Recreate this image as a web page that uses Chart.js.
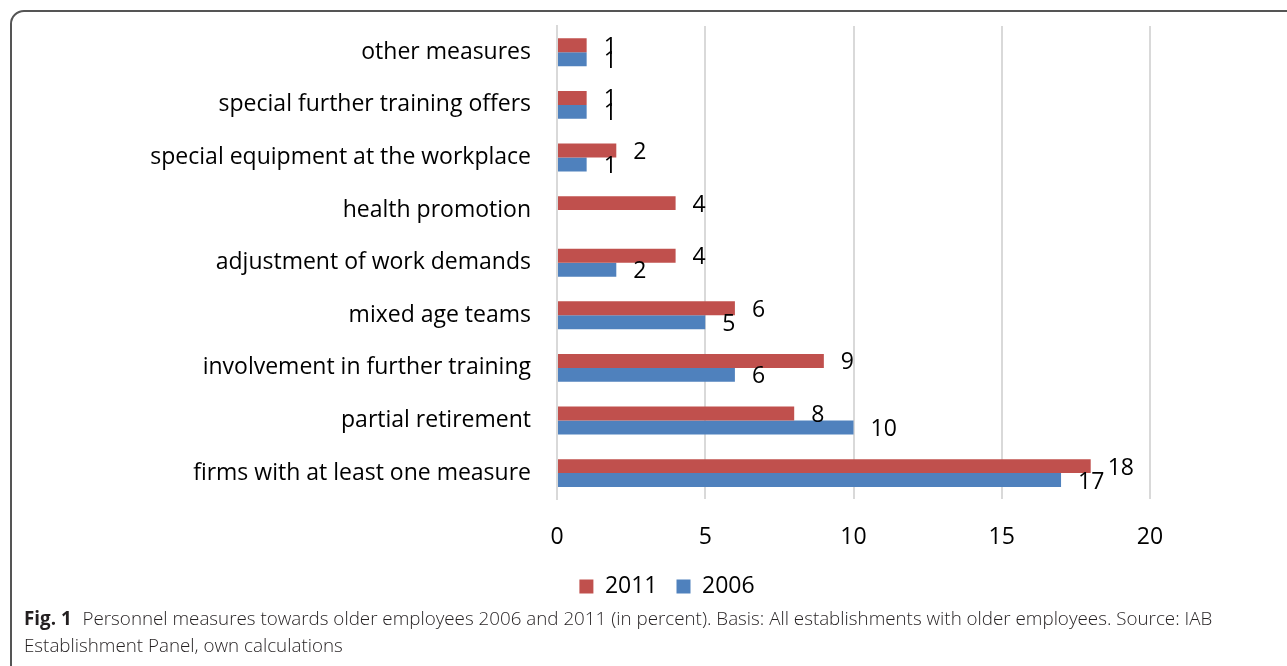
<!DOCTYPE html>
<html>
<head>
<meta charset="utf-8">
<script src="https://cdn.jsdelivr.net/npm/chart.js@4"></script>
<style>
  body { margin: 0; background: #fff; width: 1287px; height: 666px; overflow: hidden; position: relative; font-family: "Open Sans", sans-serif; }
  .frame { position: absolute; left: 10px; top: 10px; width: 1300px; height: 700px; border: 2px solid #555; border-top-left-radius: 14px; box-sizing: border-box; }
  .chart-box { position: absolute; left: 0; top: 0; width: 1287px; height: 608px; }
  .caption { position: absolute; left: 24px; top: 605px; width: 1240px; font-size: 18.8px; line-height: 27px; color: #231f20; font-family: "Open Sans", sans-serif; font-weight: 300; white-space: nowrap; }
  .caption b { font-weight: 700; margin-right: 6px; }
</style>
</head>
<body>
<div class="frame"></div>
<div class="chart-box"><canvas id="measuresChart"></canvas></div>
<div class="caption"><b>Fig. 1</b> Personnel measures towards older employees 2006 and 2011 (in percent). Basis: All establishments with older employees. Source: IAB<br>Establishment Panel, own calculations</div>
<script>
const categories = [
    "other measures",
    "special further training offers",
    "special equipment at the workplace",
    "health promotion",
    "adjustment of work demands",
    "mixed age teams",
    "involvement in further training",
    "partial retirement",
    "firms with at least one measure"
];
const values2011 = [1, 1, 2, 4, 4, 6, 9, 8, 18];
const values2006 = [1, 1, 1, null, 2, 5, 6, 10, 17];
const xTicks = [0, 5, 10, 15, 20];

const fontFamily = '"Open Sans", sans-serif';
const labelFont = '23px ' + fontFamily;

// excel style value labels next to the bar ends
const valueLabels = {
    id: 'valueLabels',
    afterDatasetsDraw(chart) {
        const ctx = chart.ctx;
        ctx.save();
        ctx.font = labelFont;
        ctx.fillStyle = '#000';
        ctx.textBaseline = 'middle';
        ctx.textAlign = 'left';
        chart.data.datasets.forEach((ds, i) => {
            const meta = chart.getDatasetMeta(i);
            meta.data.forEach((bar, j) => {
                const v = ds.data[j];
                if (v === null || v === undefined) return;
                ctx.fillText(String(v), bar.x + 17, bar.y + 2);
            });
        });
        ctx.restore();
    }
};

// the legend sits a bit right of the canvas centre in the original
const shiftLegend = {
    id: 'shiftLegend',
    afterLayout(chart) {
        if (!chart.legend) return;
        chart.legend.left += 82;
        chart.legend.right += 82;
    }
};

const ctx = document.getElementById('measuresChart').getContext('2d');
new Chart(ctx, {
    type: 'bar',
    data: {
        labels: categories,
        datasets: [
            { label: '2011', data: values2011, backgroundColor: '#C0504D', borderWidth: 0 },
            { label: '2006', data: values2006, backgroundColor: '#4F81BD', borderWidth: 0 }
        ]
    },
    options: {
        indexAxis: 'y',
        responsive: true,
        maintainAspectRatio: false,
        animation: false,
        layout: { padding: { left: 20, right: 137, top: 26, bottom: 0 } },
        datasets: { bar: { categoryPercentage: 0.53, barPercentage: 1.0 } },
        scales: {
            x: {
                min: 0,
                max: 20,
                afterBuildTicks(scale) { scale.ticks = xTicks.map(v => ({ value: v })); },
                afterFit(scale) { scale.height -= 19; },
                grid: { color: '#d9d9d9', lineWidth: 2, drawTicks: false },
                border: { display: false },
                ticks: { color: '#000', font: { size: 23, family: fontFamily }, padding: 24 }
            },
            y: {
                afterFit(scale) {
                    scale.width = 537;
                    scale.paddingTop = 0;
                    scale.paddingBottom = 0;
                },
                grid: { display: false, drawTicks: false },
                border: { display: true, color: '#d9d9d9', width: 2 },
                ticks: { color: '#000', font: { size: 23, family: fontFamily }, padding: 26 }
            }
        },
        plugins: {
            legend: {
                position: 'bottom',
                labels: {
                    color: '#000',
                    font: { size: 23, family: fontFamily },
                    boxWidth: 14,
                    boxHeight: 14,
                    padding: 19
                }
            },
            tooltip: { enabled: false }
        }
    },
    plugins: [valueLabels, shiftLegend]
});
</script>
</body>
</html>
